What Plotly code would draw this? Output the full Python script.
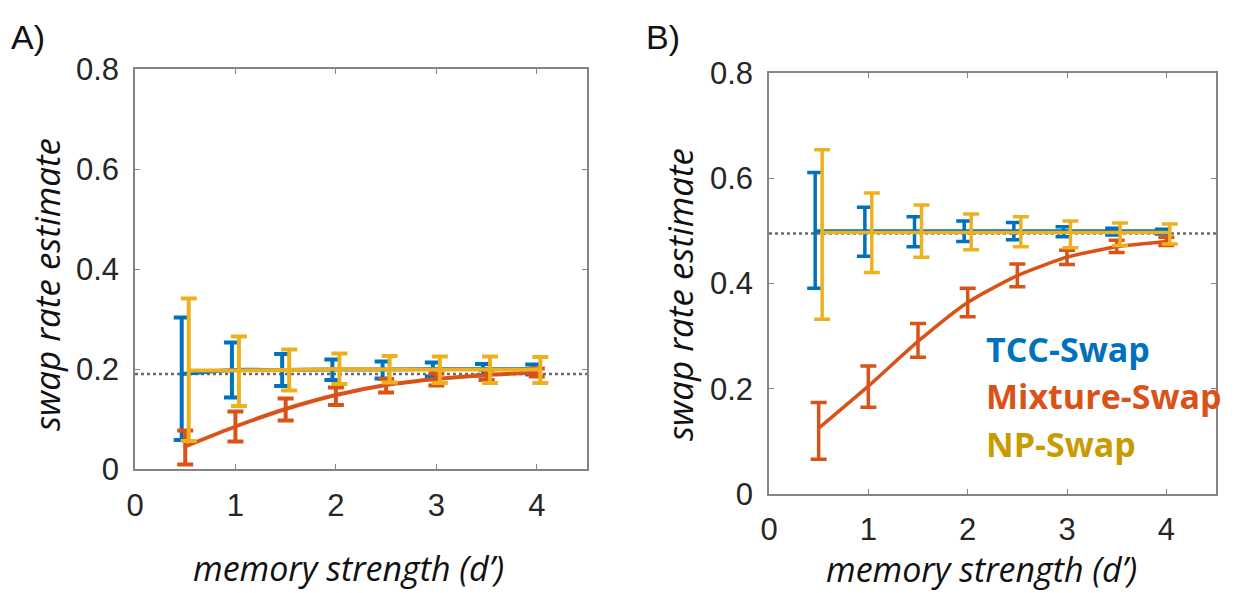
import plotly.graph_objects as go

# ---------------- data ----------------
d_prime = [0.5, 1.0, 1.5, 2.0, 2.5, 3.0, 3.5, 4.0]

# Panel A (true swap rate ~0.19)
a_tcc_mean = [0.190, 0.198, 0.198, 0.199, 0.199, 0.200, 0.200, 0.200]
a_tcc_hi = [0.303, 0.253, 0.230, 0.219, 0.215, 0.213, 0.210, 0.209]
a_tcc_lo = [0.058, 0.143, 0.166, 0.178, 0.181, 0.185, 0.187, 0.189]

a_mix_mean = [0.045, 0.085, 0.120, 0.148, 0.168, 0.180, 0.188, 0.193]
a_mix_hi = [0.077, 0.115, 0.141, 0.163, 0.180, 0.191, 0.198, 0.201]
a_mix_lo = [0.009, 0.055, 0.097, 0.128, 0.153, 0.167, 0.178, 0.185]

a_np_mean = [0.197, 0.197, 0.198, 0.200, 0.199, 0.199, 0.199, 0.199]
a_np_hi = [0.341, 0.265, 0.239, 0.231, 0.226, 0.225, 0.225, 0.224]
a_np_lo = [0.056, 0.126, 0.157, 0.170, 0.173, 0.172, 0.172, 0.172]

a_true = 0.19

# Panel B (true swap rate ~0.495)
b_tcc_mean = [0.500, 0.500, 0.500, 0.500, 0.500, 0.500, 0.500, 0.500]
b_tcc_hi = [0.611, 0.545, 0.527, 0.519, 0.516, 0.508, 0.505, 0.503]
b_tcc_lo = [0.391, 0.452, 0.470, 0.480, 0.483, 0.489, 0.492, 0.494]

b_mix_mean = [0.125, 0.205, 0.290, 0.364, 0.415, 0.450, 0.470, 0.480]
b_mix_hi = [0.174, 0.243, 0.324, 0.391, 0.437, 0.463, 0.482, 0.488]
b_mix_lo = [0.066, 0.165, 0.260, 0.337, 0.394, 0.436, 0.459, 0.472]

b_np_mean = [0.497, 0.497, 0.497, 0.497, 0.497, 0.497, 0.497, 0.497]
b_np_hi = [0.654, 0.572, 0.549, 0.532, 0.527, 0.519, 0.515, 0.513]
b_np_lo = [0.332, 0.421, 0.450, 0.464, 0.470, 0.468, 0.472, 0.475]

b_true = 0.495

x_ticks = [0, 1, 2, 3, 4]
x_ticktext = ["0", "1", "2", "3", "4"]
y_ticks = [0, 0.2, 0.4, 0.6, 0.8]
y_ticktext = ["0", "0.2", "0.4", "0.6", "0.8"]

series_names = ["TCC-Swap", "Mixture-Swap", "NP-Swap"]

# ---------------- styles ----------------
BLUE = "#0072BD"
ORANGE = "#D95319"
GOLD = "#EDB120"
GOLD_TEXT = "#C89B00"
AXIS = "#858585"
TICKFONT = dict(family="Liberation Sans, Arial, sans-serif", size=31, color="#262626")
TITLEFONT = dict(family="Open Sans, sans-serif", size=35, color="#111111", style="italic")
XTITLEFONT = dict(family="Open Sans, sans-serif", size=34, color="#111111", style="italic")
W, H = 1240, 593
PAGE_OFFSET = 8  # default body margin of the html page
DX = 0.035

fig = go.Figure()


def add_series(xs, mean, hi, lo, color, xaxis, yaxis, dx, lw, cap):
    x = [v + dx for v in xs]
    fig.add_trace(go.Scatter(
        x=x, y=mean, mode="lines",
        line=dict(color=color, width=lw, shape="spline", smoothing=0.6),
        error_y=dict(type="data", symmetric=False,
                     array=[h - m for h, m in zip(hi, mean)],
                     arrayminus=[m - l for m, l in zip(mean, lo)],
                     color=color, thickness=cap, width=8),
        xaxis=xaxis, yaxis=yaxis, hoverinfo="skip", showlegend=False))


def add_ref(val, xaxis, yaxis):
    fig.add_trace(go.Scatter(
        x=[0, 4.5], y=[val, val], mode="lines",
        line=dict(color="#6a6a6a", width=2.5, dash="dot"),
        xaxis=xaxis, yaxis=yaxis, hoverinfo="skip", showlegend=False))


# panel A
add_ref(a_true, "x", "y")
add_series(d_prime, a_tcc_mean, a_tcc_hi, a_tcc_lo, BLUE, "x", "y", -DX, 4, 4)
add_series(d_prime, a_mix_mean, a_mix_hi, a_mix_lo, ORANGE, "x", "y", 0, 4, 4)
add_series(d_prime, a_np_mean, a_np_hi, a_np_lo, GOLD, "x", "y", DX, 4, 4)
# panel B
add_ref(b_true, "x2", "y2")
add_series(d_prime, b_tcc_mean, b_tcc_hi, b_tcc_lo, BLUE, "x2", "y2", -DX, 3.5, 3.5)
add_series(d_prime, b_mix_mean, b_mix_hi, b_mix_lo, ORANGE, "x2", "y2", 0, 3.5, 3.5)
add_series(d_prime, b_np_mean, b_np_hi, b_np_lo, GOLD, "x2", "y2", DX, 3.5, 3.5)


def px_x(p):
    return (p - PAGE_OFFSET) / W


def px_y(p):
    return 1 - (p - PAGE_OFFSET) / H


axis_common = dict(showline=True, linecolor=AXIS, linewidth=1.5, mirror="ticks",
                   ticks="inside", ticklen=5, tickcolor=AXIS, tickwidth=1.2,
                   showgrid=False, zeroline=False, tickfont=TICKFONT, fixedrange=True,
                   automargin=False)

fig.update_layout(
    width=W, height=H,
    margin=dict(l=0, r=0, t=0, b=0),
    paper_bgcolor="white", plot_bgcolor="white",
    showlegend=False,
    xaxis=dict(domain=[px_x(135), px_x(587)], range=[0, 4.5], anchor="y",
               tickvals=x_ticks, ticktext=x_ticktext, ticklabelstandoff=8, **axis_common),
    yaxis=dict(domain=[px_y(469), px_y(69)], range=[0, 0.8], anchor="x",
               tickvals=y_ticks, ticktext=y_ticktext, ticklabelstandoff=8, **axis_common),
    xaxis2=dict(domain=[px_x(769), px_x(1216)], range=[0, 4.5], anchor="y2",
                tickvals=x_ticks, ticktext=x_ticktext, ticklabelstandoff=7, **axis_common),
    yaxis2=dict(domain=[px_y(494), px_y(73)], range=[0, 0.8], anchor="x2",
                tickvals=y_ticks, ticktext=y_ticktext, ticklabelstandoff=8, **axis_common),
)

LABELFONT = dict(family="Liberation Sans, Arial", size=34, color="#111")
annotations = [
    dict(text="A)", x=px_x(28), y=px_y(37), font=LABELFONT),
    dict(text="B)", x=px_x(663), y=px_y(37), font=LABELFONT),
    dict(text="memory strength (d\u2019)", x=px_x(348), y=px_y(568), font=XTITLEFONT),
    dict(text="memory strength (d\u2019)", x=px_x(981), y=px_y(569), font=XTITLEFONT),
    dict(text="swap rate estimate", x=px_x(46), y=px_y(285), textangle=-90, font=TITLEFONT),
    dict(text="swap rate estimate", x=px_x(680), y=px_y(295), textangle=-90, font=TITLEFONT),
]
legend_colors = [BLUE, ORANGE, GOLD_TEXT]
legend_y = [349, 396, 444]
for name, col, yy in zip(series_names, legend_colors, legend_y):
    annotations.append(dict(text=name, x=px_x(984), y=px_y(yy), xanchor="left",
                            font=dict(family="Open Sans, sans-serif", size=34, color=col, weight="bold")))

for a in annotations:
    a.setdefault("xanchor", "center")
    a.update(xref="paper", yref="paper", yanchor="middle", showarrow=False)
fig.update_layout(annotations=annotations)

fig.write_html("out.html")
